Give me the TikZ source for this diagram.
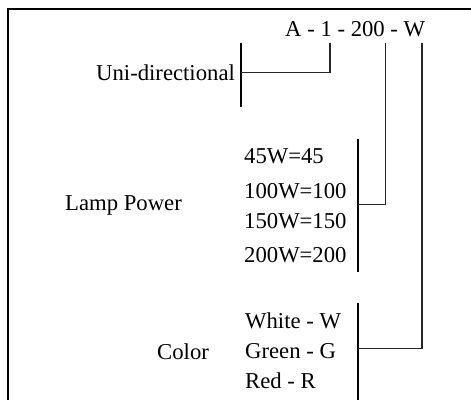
\documentclass[tikz,border=0pt]{standalone}
\usepackage{fontspec}
\setmainfont{Liberation Serif}
\begin{document}
\begin{tikzpicture}[x=1pt,y=-1pt,
  lbl/.style={anchor=base west,inner sep=0pt,font=\fontsize{22.7}{27}\selectfont},
  bar/.style={line width=2pt,black},
  conn/.style={line width=1.1pt,black!85}]
\useasboundingbox (0,0) rectangle (471,399);
% frame
\draw[line width=2pt,line cap=rect] (7.5,399) -- (7.5,8.5) -- (472,8.5);
% title
\node[lbl] (title) at (285,36.7) {A - 1 - 200 - W};
\coordinate (t1) at (330,42.5);
\coordinate (t2) at (385.3,42.5);
\coordinate (t3) at (422,42.5);
% uni-directional
\node[lbl] (uni) at (96,80) {Uni-directional};
\coordinate (ubT) at (241,42.5);
\coordinate (ubB) at (241,107.3);
\draw[bar] (ubT) -- (ubB);
\draw[conn] (t1) |- (241,72.5);
% lamp power
\node[lbl] (lamp) at (65,210.5) {Lamp Power};
\node[lbl] (p1) at (244,163.3) {45W=45};
\node[lbl] (p2) at (244,198.3) {100W=100};
\node[lbl] (p3) at (244,228.3) {150W=150};
\node[lbl] (p4) at (244,262.3) {200W=200};
\coordinate (pbT) at (357.7,139);
\coordinate (pbB) at (357.7,272);
\draw[bar] (pbT) -- (pbB);
\draw[conn] (t2) |- (357.7,204.3);
% color
\node[lbl] (color) at (157,359.3) {Color};
\node[lbl] (c1) at (245,328.3) {White - W};
\node[lbl] (c2) at (245,358.3) {Green - G};
\node[lbl] (c3) at (245,388.3) {Red - R};
\coordinate (cbT) at (357.7,303.3);
\coordinate (cbB) at (357.7,400);
\draw[bar] (cbT) -- (cbB);
\draw[conn] (t3) |- (357.7,348.4);
\end{tikzpicture}
\end{document}
